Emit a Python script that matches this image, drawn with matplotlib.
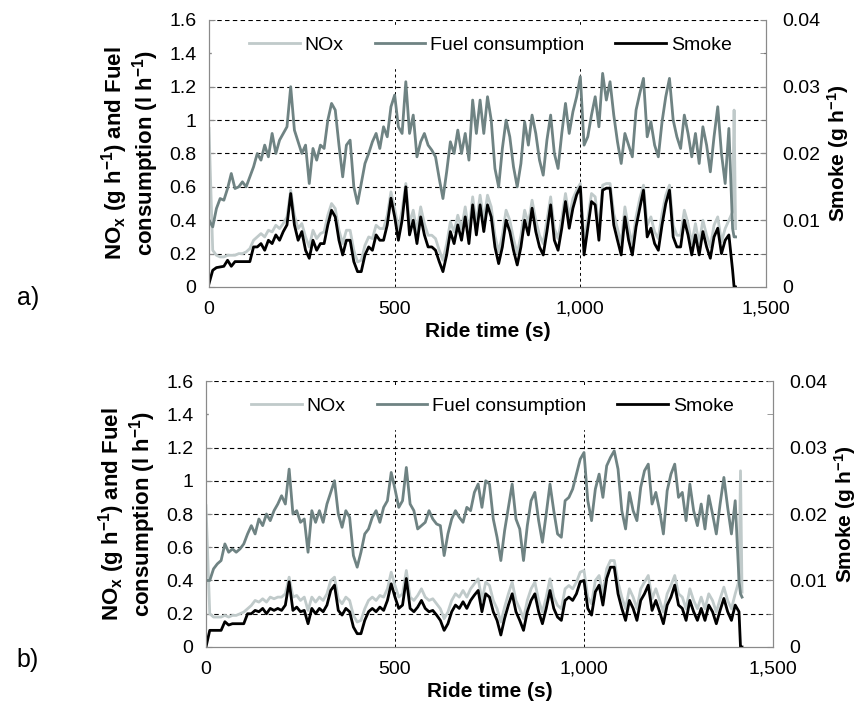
import matplotlib
matplotlib.use('Agg')
import matplotlib.pyplot as plt
from matplotlib.ticker import FuncFormatter, MultipleLocator

plt.rcParams['font.family'] = ['Liberation Sans', 'DejaVu Sans']
plt.rcParams['mathtext.fontset'] = 'custom'
plt.rcParams['mathtext.rm'] = 'Liberation Sans:bold'
plt.rcParams['mathtext.it'] = 'Liberation Sans:bold'
plt.rcParams['mathtext.bf'] = 'Liberation Sans:bold'

# ride time (s), one sample every 10 s plus the last two readings
time_s = list(range(0, 1420, 10)) + [1414, 1418]

# panel a) -- NOx (g/h) and fuel (l/h) on the left axis, smoke (g/h) on the right
nox_a = [0.95, 0.22, 0.19, 0.18, 0.18, 0.19, 0.19, 0.19, 0.20, 0.20,
         0.21, 0.23, 0.28, 0.30, 0.32, 0.30, 0.34, 0.33, 0.37, 0.35,
         0.38, 0.42, 0.58, 0.43, 0.35, 0.38, 0.30, 0.24, 0.34, 0.29,
         0.32, 0.33, 0.43, 0.50, 0.47, 0.34, 0.26, 0.34, 0.34, 0.22,
         0.15, 0.16, 0.25, 0.30, 0.29, 0.37, 0.35, 0.35, 0.43, 0.57,
         0.47, 0.35, 0.46, 0.62, 0.38, 0.46, 0.33, 0.48, 0.38, 0.31,
         0.31, 0.29, 0.22, 0.16, 0.26, 0.39, 0.33, 0.43, 0.35, 0.48,
         0.33, 0.54, 0.38, 0.55, 0.40, 0.55, 0.48, 0.31, 0.21, 0.31,
         0.46, 0.40, 0.29, 0.20, 0.31, 0.46, 0.38, 0.52, 0.40, 0.31,
         0.26, 0.40, 0.54, 0.35, 0.29, 0.41, 0.56, 0.42, 0.53, 0.58,
         0.62, 0.27, 0.41, 0.56, 0.54, 0.35, 0.61, 0.62, 0.62, 0.44,
         0.35, 0.26, 0.48, 0.35, 0.26, 0.42, 0.53, 0.61, 0.37, 0.42,
         0.33, 0.29, 0.44, 0.55, 0.61, 0.37, 0.31, 0.31, 0.46, 0.38,
         0.26, 0.38, 0.26, 0.40, 0.31, 0.24, 0.37, 0.42, 0.27, 0.35,
         0.40, 0.45, 1.06, 0.35]
fuel_a = [0.40, 0.36, 0.47, 0.53, 0.52, 0.59, 0.68, 0.59, 0.60, 0.63,
          0.60, 0.66, 0.72, 0.80, 0.76, 0.85, 0.78, 0.92, 0.80, 0.88,
          0.92, 0.96, 1.20, 0.94, 0.87, 0.80, 0.85, 0.62, 0.83, 0.76,
          0.85, 0.83, 1.00, 1.10, 1.06, 0.85, 0.66, 0.85, 0.88, 0.60,
          0.50, 0.62, 0.74, 0.80, 0.87, 0.92, 0.83, 0.96, 0.90, 1.08,
          1.15, 0.96, 0.92, 1.23, 0.92, 1.03, 0.78, 0.87, 0.92, 0.85,
          0.82, 0.78, 0.65, 0.53, 0.69, 0.87, 0.80, 0.94, 0.80, 0.92,
          0.76, 1.12, 0.92, 1.12, 0.92, 1.14, 1.00, 0.71, 0.60, 0.83,
          1.00, 0.90, 0.72, 0.60, 0.74, 0.99, 0.85, 1.03, 0.92, 0.76,
          0.67, 0.88, 1.03, 0.80, 0.71, 0.92, 1.10, 0.92, 1.05, 1.14,
          1.26, 0.85, 0.90, 1.03, 1.14, 0.96, 1.28, 1.12, 1.23, 1.03,
          0.87, 0.74, 0.92, 0.85, 0.78, 1.06, 1.16, 1.25, 0.90, 0.99,
          0.85, 0.78, 0.99, 1.14, 1.25, 1.00, 0.90, 0.83, 1.03, 0.92,
          0.78, 0.92, 0.74, 0.96, 0.85, 0.69, 0.90, 1.08, 0.80, 0.62,
          0.95, 0.35, 0.30, 0.30]
smoke_a = [0.0005, 0.0025, 0.0029, 0.0030, 0.0031, 0.0040, 0.0031, 0.0038, 0.0038, 0.0038,
           0.0038, 0.0038, 0.0060, 0.0060, 0.0065, 0.0055, 0.0070, 0.0065, 0.0078, 0.0070,
           0.0083, 0.0093, 0.0140, 0.0093, 0.0070, 0.0083, 0.0055, 0.0043, 0.0070, 0.0055,
           0.0065, 0.0065, 0.0093, 0.0115, 0.0105, 0.0070, 0.0048, 0.0070, 0.0070, 0.0038,
           0.0023, 0.0023, 0.0048, 0.0060, 0.0055, 0.0078, 0.0070, 0.0070, 0.0093, 0.0133,
           0.0105, 0.0070, 0.0100, 0.0150, 0.0078, 0.0100, 0.0065, 0.0105, 0.0078, 0.0060,
           0.0060, 0.0055, 0.0038, 0.0023, 0.0048, 0.0083, 0.0065, 0.0093, 0.0070, 0.0105,
           0.0065, 0.0123, 0.0078, 0.0123, 0.0083, 0.0123, 0.0105, 0.0060, 0.0035, 0.0060,
           0.0100, 0.0083, 0.0055, 0.0033, 0.0060, 0.0100, 0.0078, 0.0118, 0.0083, 0.0060,
           0.0048, 0.0083, 0.0123, 0.0070, 0.0055, 0.0088, 0.0128, 0.0088, 0.0118, 0.0138,
           0.0150, 0.0048, 0.0088, 0.0128, 0.0123, 0.0070, 0.0145, 0.0148, 0.0148, 0.0093,
           0.0070, 0.0048, 0.0105, 0.0070, 0.0048, 0.0090, 0.0118, 0.0145, 0.0075, 0.0088,
           0.0065, 0.0055, 0.0093, 0.0125, 0.0145, 0.0075, 0.0060, 0.0060, 0.0100, 0.0078,
           0.0048, 0.0078, 0.0048, 0.0083, 0.0060, 0.0043, 0.0075, 0.0088, 0.0050, 0.0070,
           0.0078, 0.0025, 0.0, 0.0]

# panel b)
nox_b = [0.85, 0.20, 0.18, 0.18, 0.18, 0.19, 0.18, 0.19, 0.19, 0.20,
         0.21, 0.23, 0.25, 0.28, 0.27, 0.29, 0.27, 0.30, 0.29, 0.30,
         0.30, 0.32, 0.42, 0.30, 0.31, 0.28, 0.30, 0.22, 0.30, 0.27,
         0.30, 0.28, 0.32, 0.40, 0.42, 0.29, 0.26, 0.30, 0.28, 0.19,
         0.15, 0.16, 0.23, 0.28, 0.30, 0.28, 0.31, 0.30, 0.35, 0.45,
         0.37, 0.30, 0.32, 0.46, 0.30, 0.28, 0.31, 0.35, 0.30, 0.28,
         0.29, 0.26, 0.23, 0.17, 0.21, 0.28, 0.32, 0.30, 0.34, 0.30,
         0.35, 0.38, 0.41, 0.28, 0.39, 0.37, 0.28, 0.23, 0.15, 0.24,
         0.32, 0.39, 0.28, 0.23, 0.17, 0.28, 0.35, 0.39, 0.28, 0.21,
         0.30, 0.41, 0.30, 0.25, 0.23, 0.35, 0.37, 0.35, 0.39, 0.45,
         0.46, 0.30, 0.26, 0.40, 0.43, 0.32, 0.47, 0.52, 0.52, 0.39,
         0.30, 0.23, 0.35, 0.30, 0.23, 0.35, 0.39, 0.43, 0.29, 0.35,
         0.28, 0.21, 0.32, 0.37, 0.43, 0.32, 0.30, 0.23, 0.35, 0.28,
         0.23, 0.30, 0.23, 0.32, 0.28, 0.21, 0.29, 0.36, 0.28, 0.23,
         0.32, 0.40, 1.06, 0.33]
fuel_b = [0.40, 0.40, 0.47, 0.50, 0.52, 0.62, 0.57, 0.59, 0.57, 0.59,
          0.62, 0.68, 0.73, 0.68, 0.77, 0.73, 0.80, 0.76, 0.82, 0.86,
          0.91, 0.86, 1.07, 0.80, 0.82, 0.75, 0.77, 0.57, 0.82, 0.75,
          0.82, 0.75, 0.86, 0.93, 1.00, 0.80, 0.72, 0.82, 0.78, 0.55,
          0.48, 0.57, 0.68, 0.71, 0.78, 0.82, 0.75, 0.84, 0.88, 1.05,
          0.95, 0.84, 0.88, 1.08, 0.86, 0.82, 0.71, 0.73, 0.75, 0.82,
          0.77, 0.74, 0.73, 0.55, 0.68, 0.77, 0.82, 0.78, 0.75, 0.84,
          0.82, 0.93, 0.98, 0.84, 1.00, 0.98, 0.77, 0.66, 0.52, 0.70,
          0.84, 0.98, 0.77, 0.71, 0.52, 0.73, 0.88, 0.93, 0.76, 0.63,
          0.80, 0.98, 0.82, 0.68, 0.66, 0.88, 0.90, 0.95, 1.04, 1.13,
          1.17, 0.88, 0.76, 0.95, 1.04, 0.90, 1.09, 1.14, 1.18, 1.07,
          0.82, 0.71, 0.93, 0.82, 0.76, 0.96, 1.06, 1.10, 0.86, 0.93,
          0.82, 0.68, 0.94, 1.04, 1.10, 0.90, 0.93, 0.76, 0.98, 0.82,
          0.73, 0.86, 0.71, 0.91, 0.80, 0.68, 0.86, 1.02, 0.84, 0.68,
          0.88, 0.40, 0.32, 0.30]
smoke_b = [0.0, 0.0025, 0.0025, 0.0025, 0.0025, 0.0038, 0.0033, 0.0035, 0.0035, 0.0035,
           0.0035, 0.0050, 0.0050, 0.0055, 0.0053, 0.0058, 0.0050, 0.0058, 0.0055, 0.0058,
           0.0055, 0.0063, 0.0098, 0.0055, 0.0060, 0.0053, 0.0055, 0.0035, 0.0058, 0.0050,
           0.0058, 0.0053, 0.0063, 0.0085, 0.0093, 0.0055, 0.0048, 0.0058, 0.0053, 0.0030,
           0.0020, 0.0020, 0.0040, 0.0053, 0.0058, 0.0053, 0.0060, 0.0055, 0.0070, 0.0095,
           0.0075, 0.0058, 0.0063, 0.0103, 0.0058, 0.0053, 0.0060, 0.0070, 0.0058, 0.0053,
           0.0055, 0.0048, 0.0040, 0.0025, 0.0035, 0.0053, 0.0063, 0.0058, 0.0068, 0.0058,
           0.0070, 0.0078, 0.0085, 0.0053, 0.0080, 0.0075, 0.0053, 0.0040, 0.0018, 0.0043,
           0.0063, 0.0080, 0.0053, 0.0040, 0.0025, 0.0053, 0.0070, 0.0080, 0.0053, 0.0035,
           0.0058, 0.0085, 0.0058, 0.0045, 0.0040, 0.0070, 0.0075, 0.0070, 0.0080, 0.0098,
           0.0100, 0.0058, 0.0048, 0.0083, 0.0093, 0.0063, 0.0103, 0.0120, 0.0120, 0.0080,
           0.0058, 0.0040, 0.0070, 0.0058, 0.0040, 0.0070, 0.0080, 0.0093, 0.0055, 0.0070,
           0.0053, 0.0035, 0.0063, 0.0075, 0.0093, 0.0063, 0.0058, 0.0040, 0.0070, 0.0053,
           0.0040, 0.0058, 0.0040, 0.0063, 0.0053, 0.0035, 0.0055, 0.0073, 0.0053, 0.0040,
           0.0063, 0.0053, 0.0, 0.0]

NOX_COLOR = '#c0caca'
FUEL_COLOR = '#6f8383'
SPINE_COLOR = '#8a8a8a'


def panel(rect, nox, fuel, smoke, tag, tag_y):
    ax = fig.add_axes(rect)
    l1, = ax.plot(time_s, nox, color=NOX_COLOR, lw=2.0)
    l2, = ax.plot(time_s, fuel, color=FUEL_COLOR, lw=2.0)
    ax2 = ax.twinx()
    l3, = ax2.plot(time_s, smoke, color='black', lw=2.0)

    ax.set_xlim(0, 1500)
    ax.set_ylim(0, 1.6)
    ax2.set_ylim(0, 0.04)
    ax.set_xticks([0, 500, 1000, 1500])
    ax.set_yticks([0, 0.2, 0.4, 0.6, 0.8, 1.0, 1.2, 1.4, 1.6])
    ax2.set_yticks([0, 0.01, 0.02, 0.03, 0.04])
    ax2.yaxis.set_minor_locator(MultipleLocator(0.005))
    ax.xaxis.set_major_formatter(FuncFormatter(lambda v, p: f'{v:,.0f}'))
    ax.yaxis.set_major_formatter(FuncFormatter(lambda v, p: f'{v:g}'))
    ax2.yaxis.set_major_formatter(FuncFormatter(lambda v, p: f'{v:g}'))

    ax.yaxis.grid(True, color='black', lw=0.8, ls=(0, (4, 3)))
    ax.xaxis.grid(True, color='black', lw=0.7, ls=(0, (3, 3)))
    ax.get_ygridlines()[0].set_visible(False)
    ax.get_xgridlines()[0].set_visible(False)
    ax.get_xgridlines()[-1].set_visible(False)

    for a in (ax, ax2):
        a.spines['top'].set_visible(False)
        for s in ('left', 'right', 'bottom'):
            a.spines[s].set_color(SPINE_COLOR)
    ax.tick_params(axis='y', direction='in', length=4, color=SPINE_COLOR, labelsize=14, pad=9)
    ax.tick_params(axis='x', length=0, labelsize=14, pad=10)
    ax2.tick_params(axis='y', which='both', direction='in', length=4, color=SPINE_COLOR,
                    labelsize=14, pad=12)

    ax.set_xlabel('Ride time (s)', fontsize=15, fontweight='bold', labelpad=3)
    ax.set_ylabel('NO$_{x}$ (g h$^{-1}$) and Fuel\nconsumption (l h$^{-1}$)',
                  fontsize=16, fontweight='bold', labelpad=6, linespacing=1.0)
    ax2.set_ylabel('Smoke (g h$^{-1}$)', fontsize=15, fontweight='bold', labelpad=3)

    # white band behind the legend hides the grid there
    ax2.axhspan(1.31 / 40, 1.57 / 40, xmin=0.005, xmax=0.995, color='white', zorder=0)
    ax2.legend([l1, l2, l3], ['NOx', 'Fuel consumption', 'Smoke'], loc='center',
               bbox_to_anchor=(0.505, 0.905), ncol=3, frameon=False, fontsize=14,
               handlelength=2.6, handletextpad=0.25, columnspacing=1.6)

    fig.text(0.032, tag_y, tag, fontsize=18, ha='center', va='center')


fig = plt.figure(figsize=(8.64, 7.13), dpi=100)
panel([0.2419, 0.5975, 0.6447, 0.3745], nox_a, fuel_a, smoke_a, 'a)', 1 - 298 / 713)
panel([0.2384, 0.0926, 0.6563, 0.3730], nox_b, fuel_b, smoke_b, 'b)', 1 - 660 / 713)

plt.savefig('out.png', dpi=100)
